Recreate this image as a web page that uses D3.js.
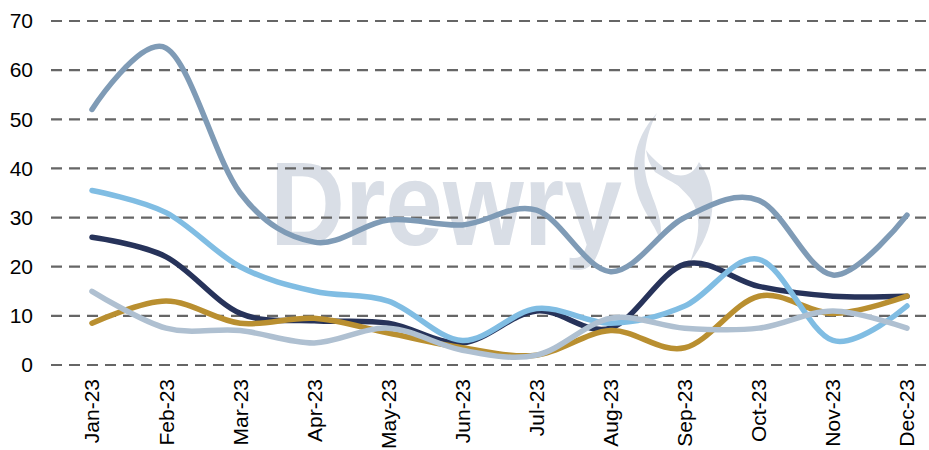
<!DOCTYPE html>
<html>
<head>
<meta charset="utf-8">
<script src="https://cdn.jsdelivr.net/npm/d3@7"></script>
<style>
  body { margin: 0; background: #fff; }
  svg text { font-family: "Liberation Sans", Arial, Helvetica, sans-serif; fill: #000; }
</style>
</head>
<body>
<div id="chart"></div>
<script>
// data
var months = ["Jan-23","Feb-23","Mar-23","Apr-23","May-23","Jun-23","Jul-23","Aug-23","Sep-23","Oct-23","Nov-23","Dec-23"];
var yTicks = [0, 10, 20, 30, 40, 50, 60, 70];

var slate     = [52, 64.5, 35, 25, 29.5, 28.5, 31.5, 19, 30, 33.5, 18.3, 30.5];
var navy      = [26, 22, 10.5, 9, 8.5, 4.5, 11, 7.5, 20.5, 16, 14, 14];
var gold      = [8.5, 13, 8.5, 9.5, 6.5, 3.5, 2, 7, 3.5, 14, 10.5, 14];
var lightBlue = [35.5, 31, 20, 15, 13, 5, 11.5, 8.5, 12, 21.5, 5, 12];
var grey      = [15, 7.5, 7, 4.5, 7.5, 3, 2, 9.5, 7.5, 7.5, 11, 7.5];

var series = [
  {values: slate, color: "#7f9bb6"},
  {values: navy, color: "#27335a"},
  {values: gold, color: "#b98f30"},
  {values: lightBlue, color: "#80bde3"},
  {values: grey, color: "#afc0d1"}
];

var width = 929, height = 450;

var svg = d3.select("#chart")
  .append("svg")
    .attr("width", width)
    .attr("height", height);

var x = d3.scalePoint()
  .domain(months)
  .range([92, 907]);

var y = d3.scaleLinear()
  .domain([0, 70])
  .range([365, 21]);

// watermark
var wm = svg.append("g").attr("fill", "#d9dee6");
wm.append("text")
  .attr("x", 270)
  .attr("y", 245)
  .attr("font-size", 118)
  .attr("font-weight", "bold")
  .attr("textLength", 352)
  .attr("lengthAdjust", "spacingAndGlyphs")
  .style("fill", "#d9dee6")
  .text("Drewry");
// flame logo, rough shapes
wm.append("path")
  .attr("d", "M657,113 C632,140 628,175 642,205 C648,218 656,228 660,240 C664,222 655,205 650,190 C640,165 645,135 657,113 Z");
wm.append("path")
  .attr("d", "M699,162 C720,190 716,230 690,262 C700,235 702,215 690,198 C680,186 668,178 662,168 C672,176 690,182 699,162 Z");
wm.append("path")
  .attr("d", "M646,150 C660,170 690,180 692,200 C688,188 670,182 655,172 C650,165 647,158 646,150 Z");

// grid lines
svg.append("g")
  .selectAll("line")
  .data(yTicks)
  .join("line")
    .attr("x1", 51)
    .attr("x2", width)
    .attr("y1", function(d) { return y(d); })
    .attr("y2", function(d) { return y(d); })
    .attr("stroke", "#666")
    .attr("stroke-width", 2.2)
    .attr("stroke-dasharray", "11,7");

// y axis labels
var yAxis = svg.append("g")
  .attr("transform", "translate(33,0)")
  .call(d3.axisLeft(y).tickValues(yTicks).tickSize(0).tickPadding(0));
yAxis.select(".domain").remove();
yAxis.selectAll("text")
  .attr("font-size", 21)
  .attr("font-family", "Liberation Sans, Arial, sans-serif");

// x axis labels
var xAxis = svg.append("g")
  .attr("transform", "translate(0,379)")
  .call(d3.axisBottom(x).tickSize(0).tickPadding(0));
xAxis.select(".domain").remove();
xAxis.selectAll("text")
  .attr("font-size", 21)
  .attr("font-family", "Liberation Sans, Arial, sans-serif")
  .attr("text-anchor", "end")
  .attr("transform", "rotate(-90)")
  .attr("x", 0)
  .attr("y", 0)
  .attr("dx", 0)
  .attr("dy", "0.33em");

// lines
var line = d3.line()
  .x(function(d, i) { return x(months[i]); })
  .y(function(d) { return y(d); })
  .curve(d3.curveCardinal.tension(0));

svg.append("g")
  .selectAll("path")
  .data(series)
  .join("path")
    .attr("d", function(d) { return line(d.values); })
    .attr("fill", "none")
    .attr("stroke", function(d) { return d.color; })
    .attr("stroke-width", 5.5)
    .attr("stroke-linecap", "round")
    .attr("stroke-linejoin", "round");
</script>
</body>
</html>
